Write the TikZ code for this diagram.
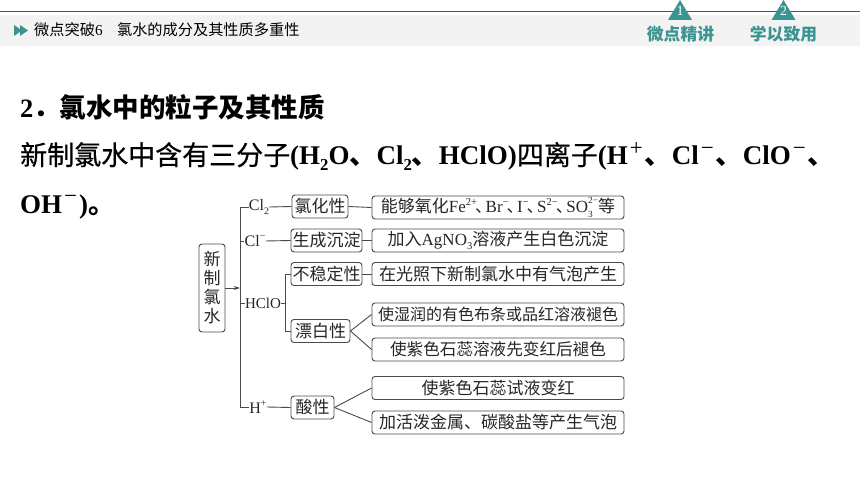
\documentclass[tikz,border=0pt]{standalone}
\usepackage{fontspec}
\setmainfont{Liberation Serif}
\newfontfamily\cjk{Noto Sans CJK SC}
\newfontfamily\cjkmid[FakeBold=0.5]{Noto Sans CJK SC}
\usetikzlibrary{arrows.meta}
\definecolor{tealmark}{HTML}{3A9490}
\definecolor{bandgrey}{HTML}{F3F3F3}
\definecolor{rulegrey}{HTML}{555555}
\definecolor{linegrey}{HTML}{4A4A4A}
\newcommand{\zh}[1]{{\cjk #1}}
\newcommand{\zhmid}[1]{{\cjkmid\mdseries #1}}
\newcommand{\upx}[1]{\raisebox{0.42em}{\scalebox{0.62}{#1}}}
\newcommand{\dnx}[1]{\raisebox{-0.2em}{\scalebox{0.62}{#1}}}
\newcommand{\updn}[2]{\rlap{\raisebox{-0.3em}{\scalebox{0.55}{#1}}}\raisebox{0.5em}{\scalebox{0.55}{#2}}}
\newcommand{\bodyup}[1]{\makebox[17pt]{\raisebox{0.36em}{\scalebox{0.85}{\mdseries #1}}}}
\newcommand{\dun}{\makebox[0.5em][l]{\hspace{-0.12em}\zh{、}}}
\tikzset{
  x=1pt,y=-1pt,
  roundbox/.style={draw=linegrey,line width=0.9pt,rounded corners=3pt,inner sep=0pt,
    font=\fontsize{17}{19}\selectfont,text=black!85},
  infobox/.style={roundbox,minimum width=252pt,minimum height=23pt},
  kindbox/.style={roundbox,minimum height=23pt},
  species/.style={inner sep=0pt,font=\fontsize{16}{18}\selectfont,text=black!85},
  link/.style={draw=linegrey,line width=0.9pt},
  bodyline/.style={anchor=base west,inner sep=0pt,font=\fontsize{27}{30}\selectfont\bfseries},
  tabword/.style={inner sep=0pt,text=tealmark,font=\fontsize{16.8}{18}\selectfont\bfseries},
  tabnum/.style={inner sep=0pt,text=white,font=\fontsize{14}{14}\selectfont},
}
\begin{document}
\begin{tikzpicture}
\useasboundingbox (0,0) rectangle (860,484);
\fill[white] (0,0) rectangle (860,484);

% header
\fill[bandgrey] (0,15) rectangle (860,46);
\draw[rulegrey,line width=1pt] (0,11.5) -- (860,11.5);
\fill[tealmark] (14,25) -- (22,30.5) -- (14,36) -- cycle;
\fill[tealmark] (20,25) -- (28,30.5) -- (20,36) -- cycle;
\node (headtitle) [anchor=west,inner sep=0pt,font=\fontsize{15.2}{16}\selectfont] at (34,29.5)
  {\zh{微点突破}6\hspace{14.5pt}\zh{氯水的成分及其性质多重性}};
\fill[tealmark] (680,0) -- (692,20) -- (668,20) -- cycle;
\fill[tealmark] (783.5,0) -- (795.5,20) -- (771.5,20) -- cycle;
\node (tabnumone) [tabnum] at (680,10.5) {1};
\node (tabnumtwo) [tabnum] at (783.5,10.5) {2};
\node (tabone) [tabword] at (680.5,34) {\zh{微点精讲}};
\node (tabtwo) [tabword] at (783.5,34) {\zh{学以致用}};

% body text
\node (lineone) [bodyline,font=\fontsize{26.5}{30}\selectfont\bfseries] at (20,118) {2\zh{．氯水中的粒子及其性质}};
\node (linetwo) [bodyline] at (20,165) {\zhmid{新制氯水中含有三分子}(H\dnx{2}O\zh{、}Cl\dnx{2}\zh{、}HClO)\zhmid{四离子}(H\bodyup{+}\zh{、}Cl\bodyup{−}\zh{、}ClO\bodyup{−}\zh{、}};
\node (linethree) [bodyline] at (20,213) {OH\bodyup{−})\zh{。}};

% root
\node (root) [roundbox,minimum width=26pt,minimum height=88pt,align=center] at (212,288)
  {\zh{新}\\\zh{制}\\\zh{氯}\\\zh{水}};

% species
\node (cltwo) [species] at (259,207) {Cl\dnx{2}};
\node (clminus) [species] at (255,241) {Cl\upx{−}};
\node (hclo) [species,font=\fontsize{15}{18}\selectfont] at (263,303) {HClO};
\node (hplus) [species] at (258,407) {H\upx{+}};

% properties
\node (oxid) [kindbox,minimum width=56pt] at (320,206.5) {\zh{氯化性}};
\node (precip) [kindbox,minimum width=71pt] at (326.5,240.5) {\zh{生成沉淀}};
\node (unstable) [kindbox,minimum width=71pt] at (326.5,274) {\zh{不稳定性}};
\node (bleach) [kindbox,minimum width=59pt] at (320.5,331) {\zh{漂白性}};
\node (acid) [kindbox,minimum width=43pt] at (312.5,407.5) {\zh{酸性}};

% facts
\node (factoxid) [infobox] at (498,207.5)
  {\zh{能够氧化}Fe\upx{2+}\dun Br\upx{−}\dun I\upx{−}\dun S\upx{2−}\dun SO\updn{3}{2−}\zh{等}};
\node (factprecip) [infobox] at (498,240.5) {\zh{加入}AgNO\dnx{3}\zh{溶液产生白色沉淀}};
\node (factunstable) [infobox] at (498,274) {\zh{在光照下新制氯水中有气泡产生}};
\node (factcloth) [infobox,font=\fontsize{16}{19}\selectfont] at (498,314.5) {\zh{使湿润的有色布条或品红溶液褪色}};
\node (factlitmus) [infobox,font=\fontsize{16.6}{19}\selectfont] at (498,349.5) {\zh{使紫色石蕊溶液先变红后褪色}};
\node (factred) [infobox] at (498,388) {\zh{使紫色石蕊试液变红}};
\node (factgas) [infobox] at (498,422.5) {\zh{加活泼金属、碳酸盐等产生气泡}};

% corners of the two trunks
\coordinate (trunktop) at (240,207);
\coordinate (trunkbot) at (240,407);
\coordinate (trunkin) at (240,288);
\coordinate (trunkmid) at (240,303);
\coordinate (trunkcl) at (240,241);
\coordinate (subtop) at (285,274);
\coordinate (subbot) at (285,331);
\coordinate (submid) at (285,303);

\draw[link] (cltwo.west) -- (trunktop) -- (trunkbot) -- (hplus.west);
\draw[link] (clminus.west) -- (trunkcl);
\draw[link] (hclo.west) -- (trunkmid);
\draw[link,-{Stealth[length=6pt,width=4pt]}] (root.east |- trunkin) -- (trunkin);
\draw[link] (unstable.west) -- (subtop) -- (subbot) -- (bleach.west);
\draw[link] (hclo.east) -- (submid);
\draw[link] (cltwo.east) -- (oxid.west);
\draw[link] (clminus.east) -- (precip.west);
\draw[link] (hplus.east) -- (acid.west);
\draw[link] (oxid.east) -- (factoxid.west);
\draw[link] (precip.east) -- (factprecip.west);
\draw[link] (unstable.east) -- (factunstable.west);
\draw[link] (bleach.east) -- (factcloth.west);
\draw[link] (bleach.east) -- (factlitmus.west);
\draw[link] (acid.east) -- (factred.west);
\draw[link] (acid.east) -- (factgas.west);
\end{tikzpicture}
\end{document}
